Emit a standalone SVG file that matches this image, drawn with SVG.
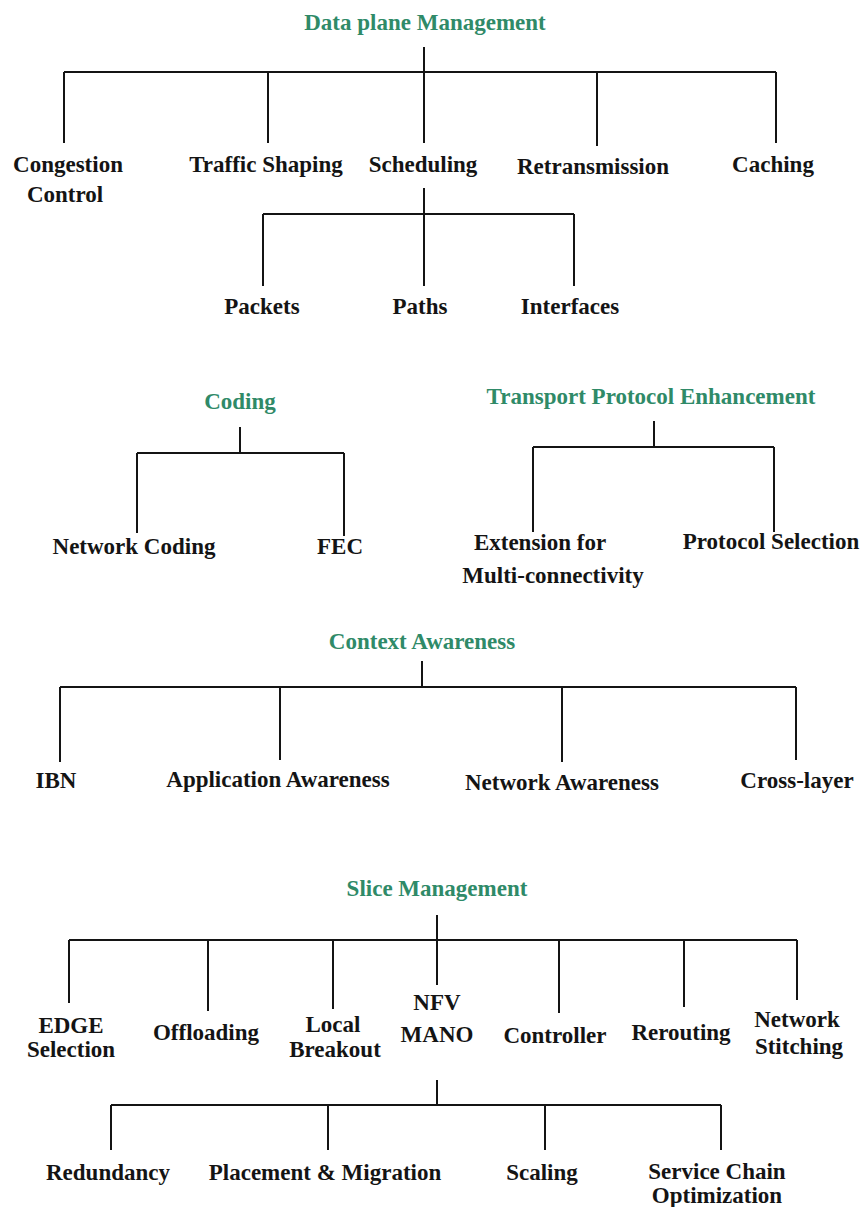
<svg xmlns="http://www.w3.org/2000/svg" width="861" height="1207" viewBox="0 0 861 1207">
  <style>
    text { font-family: "Liberation Serif", Tinos, "Times New Roman", Times, serif; font-weight: 700; font-size: 23px; text-anchor: middle; fill: #141414; }
    text.h { fill: #2f8a68; }
    .ln { stroke: #141414; stroke-width: 2; fill: none; }
  </style>
  <rect width="861" height="1207" fill="#fff"/>

  <!-- tree connectors -->
  <g id="connectors" class="ln">
    <!-- Data plane Management -->
    <path d="M424 47V72M64 72H776M64 72V143M268 72V143M424 72V143M597 72V146M776 72V143"/>
    <!-- Scheduling -->
    <path d="M424 188V214M263 214H574M263 214V286M424 214V286M574 214V286"/>
    <!-- Coding -->
    <path d="M240 427V453M137 453H344M137 453V533M344 453V536"/>
    <!-- Transport Protocol Enhancement -->
    <path d="M654 421V447M533 447H774M533 447V532M774 447V532"/>
    <!-- Context Awareness -->
    <path d="M422 661V687M60 687H796M60 687V762M280 687V760M562 687V762M796 687V760"/>
    <!-- Slice Management -->
    <path d="M437 915V940M69 940H797M69 940V1003M208 940V1011M333 940V1009M437 940V985M559 940V1013M684 940V1007M797 940V1000"/>
    <!-- NFV MANO -->
    <path d="M437 1080V1105M111 1105H721M111 1105V1150M328 1105V1150M545 1105V1150M721 1105V1150"/>
  </g>

  <g id="data-plane-management"><text class="h" x="425" y="30">Data plane Management</text></g>
  <g id="congestion-control"><text x="68" y="172">Congestion</text><text x="65" y="202">Control</text></g>
  <g id="traffic-shaping"><text x="266" y="172">Traffic Shaping</text></g>
  <g id="scheduling"><text x="423" y="172">Scheduling</text></g>
  <g id="retransmission"><text x="593" y="174">Retransmission</text></g>
  <g id="caching"><text x="773" y="172">Caching</text></g>
  <g id="packets"><text x="262" y="314">Packets</text></g>
  <g id="paths"><text x="420" y="314">Paths</text></g>
  <g id="interfaces"><text x="570" y="314">Interfaces</text></g>

  <g id="coding"><text class="h" x="240" y="409">Coding</text></g>
  <g id="network-coding"><text x="134" y="554">Network Coding</text></g>
  <g id="fec"><text x="340" y="554">FEC</text></g>

  <g id="transport-protocol-enhancement"><text class="h" x="651" y="404">Transport Protocol Enhancement</text></g>
  <g id="extension-multi-connectivity"><text x="540" y="550">Extension for</text><text x="553" y="583">Multi-connectivity</text></g>
  <g id="protocol-selection"><text x="771" y="549">Protocol Selection</text></g>

  <g id="context-awareness"><text class="h" x="422" y="649">Context Awareness</text></g>
  <g id="ibn"><text x="56" y="788">IBN</text></g>
  <g id="application-awareness"><text x="278" y="787">Application Awareness</text></g>
  <g id="network-awareness"><text x="562" y="790">Network Awareness</text></g>
  <g id="cross-layer"><text x="797" y="788">Cross-layer</text></g>

  <g id="slice-management"><text class="h" x="437" y="896">Slice Management</text></g>
  <g id="edge-selection"><text x="71" y="1033">EDGE</text><text x="71" y="1057">Selection</text></g>
  <g id="offloading"><text x="206" y="1040">Offloading</text></g>
  <g id="local-breakout"><text x="333" y="1032">Local</text><text x="335" y="1057">Breakout</text></g>
  <g id="nfv-mano"><text x="437" y="1010">NFV</text><text x="437" y="1042">MANO</text></g>
  <g id="controller"><text x="555" y="1043">Controller</text></g>
  <g id="rerouting"><text x="681" y="1040">Rerouting</text></g>
  <g id="network-stitching"><text x="797" y="1027">Network</text><text x="799" y="1054">Stitching</text></g>

  <g id="redundancy"><text x="108" y="1180">Redundancy</text></g>
  <g id="placement-migration"><text x="325" y="1180">Placement &amp; Migration</text></g>
  <g id="scaling"><text x="542" y="1180">Scaling</text></g>
  <g id="service-chain-optimization"><text x="717" y="1179">Service Chain</text><text x="717" y="1203">Optimization</text></g>
</svg>
